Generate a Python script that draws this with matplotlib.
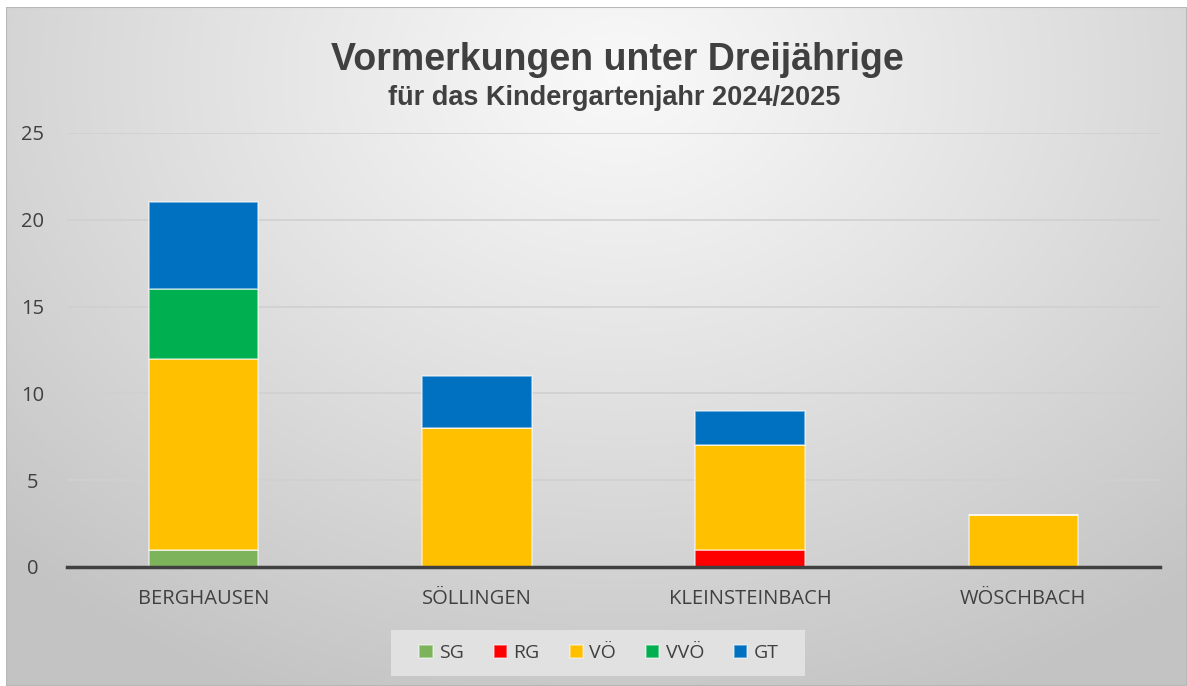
import numpy as np
import matplotlib
matplotlib.use("Agg")
import matplotlib.pyplot as plt
from matplotlib.patches import Rectangle

categories = ["BERGHAUSEN", "SÖLLINGEN", "KLEINSTEINBACH", "WÖSCHBACH"]
series_names = ["SG", "RG", "VÖ", "VVÖ", "GT"]
sg = [1, 0, 0, 0]
rg = [0, 0, 1, 0]
voe = [11, 8, 6, 3]
vvoe = [4, 0, 0, 0]
gt = [5, 3, 2, 0]
series_values = [sg, rg, voe, vvoe, gt]
colors = ["#7cb35b", "#ff0000", "#ffc000", "#00b050", "#0070c0"]
yticks = [0, 5, 10, 15, 20, 25]

W, H = 1187, 686
fig = plt.figure(figsize=(W / 100, H / 100), dpi=100)
fig.patch.set_facecolor("white")

# background gradient
bg = fig.add_axes([6 / W, 0, 1 - 6 / W, 1 - 7 / H], zorder=-10)
ny, nx = 300, 600
yy, xx = np.mgrid[0:1:ny * 1j, 0:1:nx * 1j]
cx, cy = 0.52, 0.1
d = np.sqrt(((xx - cx) / 0.75) ** 2 + ((yy - cy) / 1.0) ** 2)
d = np.clip(d, 0, 1)
val = 0.975 - 0.21 * d ** 1.1
img = np.dstack([val, val, val])
bg.imshow(img, aspect="auto", extent=[0, 1, 1, 0], interpolation="bicubic")
bg.set_xlim(0, 1)
bg.set_ylim(1, 0)
bg.axis("off")
bg.add_patch(Rectangle((0, 0), 1, 1, transform=bg.transAxes, fill=False,
                       edgecolor="#b8b8b8", linewidth=1.5))

# legend background box
fig.patches.append(Rectangle((391 / W, 1 - 676 / H), (805 - 391) / W, 46 / H,
                             transform=fig.transFigure, facecolor="#e1e1e1",
                             edgecolor="none", zorder=1))

# main axes
x0, x1 = 67, 1160
ytop, ybot = 133, 567
ax = fig.add_axes([x0 / W, 1 - ybot / H, (x1 - x0) / W, (ybot - ytop) / H])
ax.patch.set_alpha(0)
x = np.arange(len(categories))
bottom = np.zeros(len(categories))
for name, vals, c in zip(series_names, series_values, colors):
    ax.bar(x, vals, width=0.4, bottom=bottom, color=c, label=name,
           edgecolor=(1, 1, 1, 0.55), linewidth=1.2, zorder=3)
    bottom += np.array(vals)

ax.set_xlim(-0.5, len(categories) - 0.5)
ax.set_ylim(0, 25)
ax.set_yticks(yticks)
ax.set_xticks(x)
ax.set_xticklabels(categories)
ax.yaxis.grid(True, color="#d0d0d0", linewidth=1.2, zorder=0)
ax.set_axisbelow(True)
for s in ["top", "right", "left"]:
    ax.spines[s].set_visible(False)
ax.spines["bottom"].set_color("#404040")
ax.spines["bottom"].set_linewidth(2.5)
ax.spines["bottom"].set_zorder(5)
ax.tick_params(axis="both", length=0, labelsize=14.5, labelcolor="#404040")
ax.tick_params(axis="x", pad=16)
ax.tick_params(axis="y", pad=25)
for lab in ax.get_xticklabels() + ax.get_yticklabels():
    lab.set_family(["Open Sans", "DejaVu Sans"])
for lab in ax.get_yticklabels():
    lab.set_horizontalalignment("center")

fig.text(617 / W, 1 - 60 / H, "Vormerkungen unter Dreijährige", ha="center", va="center",
         fontsize=27, fontweight="bold", color="#404040", family=["Liberation Sans", "DejaVu Sans"])
fig.text(614 / W, 1 - 98 / H, "für das Kindergartenjahr 2024/2025", ha="center", va="center",
         fontsize=19.5, fontweight="bold", color="#404040", family=["Liberation Sans", "DejaVu Sans"])

leg = fig.legend(loc="center", bbox_to_anchor=(599 / W, 1 - 653 / H), ncol=5, frameon=False,
                 prop={"family": ["Open Sans", "DejaVu Sans"], "size": 14},
                 handlelength=0.68, handleheight=0.68, handletextpad=0.32, columnspacing=1.55,
                 borderpad=0.55, borderaxespad=0)
for t in leg.get_texts():
    t.set_color("#404040")
for h in leg.legend_handles:
    h.set_edgecolor((1, 1, 1, 0.45))

fig.savefig("out.png", dpi=100)
